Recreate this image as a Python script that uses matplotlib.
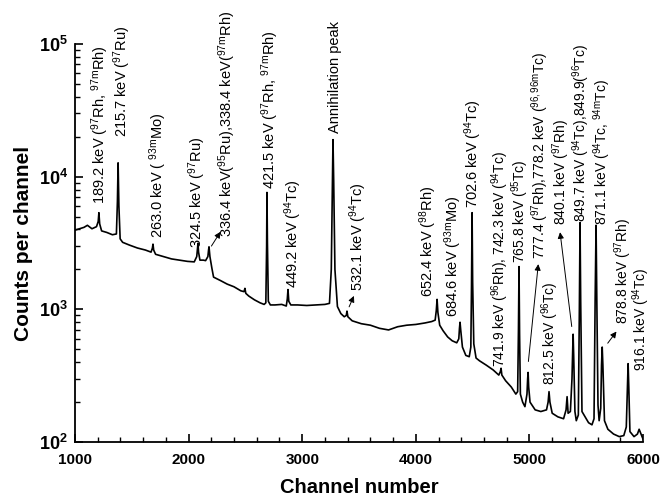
import numpy as np
import matplotlib
matplotlib.use('Agg')
import matplotlib.pyplot as plt

plt.rcParams['font.family'] = ['Liberation Sans', 'DejaVu Sans']
plt.rcParams['mathtext.fontset'] = 'custom'
plt.rcParams['mathtext.rm'] = 'Liberation Sans'
plt.rcParams['mathtext.it'] = 'Liberation Sans:italic'
plt.rcParams['mathtext.bf'] = 'Liberation Sans:bold'

# spectrum (channel, counts per channel)
channel = [1000, 1040, 1080, 1110, 1150, 1190, 1205, 1211, 1218, 1235, 1280, 1330, 1365,
           1374, 1380, 1387, 1398, 1420, 1480, 1550, 1620, 1670, 1682, 1687, 1693, 1710,
           1780, 1850, 1920, 1990, 2050, 2072, 2079, 2083, 2088, 2100, 2130, 2150, 2170,
           2176, 2180, 2188, 2205, 2220, 2280, 2340, 2400, 2460, 2488, 2496, 2504, 2530,
           2580, 2630, 2665, 2680, 2687, 2690, 2694, 2702, 2720, 2760, 2820, 2860, 2869,
           2875, 2882, 2900, 2960, 3040, 3120, 3200, 3240, 3256, 3266, 3271, 3277, 3288,
           3310, 3340, 3370, 3388, 3394, 3402, 3440, 3520, 3600, 3680, 3760, 3840, 3920,
           4000, 4080, 4140, 4170, 4180, 4187, 4194, 4210, 4240, 4280, 4320, 4360, 4378,
           4384, 4389, 4395, 4410, 4440, 4470, 4484, 4490, 4495, 4500, 4510, 4530, 4560,
           4620, 4680, 4730, 4744, 4750, 4757, 4790, 4840, 4880, 4896, 4903, 4908, 4913,
           4920, 4940, 4960, 4978, 4984, 4988, 4993, 5005, 5050, 5100, 5150, 5164, 5172,
           5180, 5200, 5250, 5300, 5322, 5331, 5340, 5360, 5374, 5380, 5384, 5389, 5400,
           5412, 5430, 5439, 5445, 5451, 5462, 5490, 5520, 5550, 5568, 5578, 5586, 5593,
           5603, 5613, 5627, 5634, 5640, 5646, 5660, 5690, 5740, 5790, 5830, 5852, 5862,
           5868, 5874, 5884, 5920, 5950, 5965, 6000]
counts = [3950, 4050, 4150, 4300, 4050, 4200, 4600, 5350, 4400, 3900, 3800, 3650, 3700,
          6500, 12700, 6000, 3400, 3200, 3050, 2900, 2800, 2700, 2900, 3100, 2800, 2600,
          2500, 2400, 2350, 2300, 2280, 2500, 2900, 3150, 2700, 2350, 2350, 2330, 2500,
          2800, 2960, 2500, 2050, 1750, 1650, 1550, 1480, 1380, 1360, 1440, 1320, 1260,
          1180, 1120, 1090, 1120, 3000, 7600, 3200, 1150, 1080, 1080, 1090, 1060, 1200,
          1410, 1150, 1080, 1080, 1070, 1080, 1090, 1110, 2000, 9000, 19000, 9500, 2000,
          1050, 930, 880, 900, 970, 880, 820, 780, 760, 720, 700, 740, 760,
          770, 790, 810, 830, 980, 1190, 950, 760, 690, 620, 580, 560, 600,
          720, 800, 700, 520, 450, 440, 520, 1500, 5350, 1600, 550, 430, 410,
          380, 350, 320, 340, 360, 320, 290, 260, 230, 240, 700, 2100, 650,
          230, 200, 185, 230, 300, 335, 260, 200, 175, 170, 175, 200, 240,
          200, 165, 155, 150, 175, 220, 165, 170, 300, 500, 650, 450, 170,
          145, 160, 1000, 4500, 1100, 170, 155, 140, 135, 150, 1200, 4300, 1100,
          190, 145, 180, 380, 520, 380, 145, 125, 115, 110, 112, 130, 250,
          390, 260, 120, 110, 115, 125, 105]

# peak labels: text, channel, counts at the bottom of the rotated text
labels = ['189.2 keV ($^{97}$Rh, $^{\\mathrm{97m}}$Rh)',
          '215.7 keV ($^{97}$Ru)',
          '263.0 keV ( $^{\\mathrm{93m}}$Mo)',
          '324.5 keV ($^{97}$Ru)',
          '336.4 keV($^{95}$Ru),338.4 keV($^{\\mathrm{97m}}$Rh)',
          '421.5 keV ($^{97}$Rh, $^{\\mathrm{97m}}$Rh)',
          '449.2 keV ($^{94}$Tc)',
          'Annihilation peak',
          '532.1 keV ($^{94}$Tc)',
          '652.4 keV ($^{98}$Rh)',
          '684.6 keV ($^{\\mathrm{93m}}$Mo)',
          '702.6 keV ($^{94}$Tc)',
          '741.9 keV ($^{96}$Rh), 742.3 keV ($^{94}$Tc)',
          '765.8 keV ($^{95}$Tc)',
          '777.4 ($^{97}$Rh),778.2 keV ($^{\\mathrm{96,96m}}$Tc)',
          '812.5 keV ($^{96}$Tc)',
          '840.1 keV ($^{97}$Rh)',
          '849.7 keV ($^{94}$Tc),849.9($^{96}$Tc)',
          '871.1 keV ($^{94}$Tc, $^{\\mathrm{94m}}$Tc)',
          '878.8 keV ($^{97}$Rh)',
          '916.1 keV ($^{94}$Tc)']
label_ch = [1220, 1414, 1731, 2074, 2338, 2717, 2919, 3289, 3491, 4107, 4327, 4504,
            4745, 4922, 5098, 5181, 5276, 5458, 5642, 5824, 5982]
label_cnt = [6200, 20000, 3470, 2920, 3540, 8130, 1460, 21400, 1365, 1230, 870, 5850,
             366, 2250, 2380, 268, 4350, 4590, 4290, 771, 342]
label_size = [10.5] * 12 + [10] * 9

# arrows: (tail channel, tail counts) -> (head channel, head counts)
arrow_tail = [(2188, 2880), (3403, 1000), (4988, 386), (5375, 708), (5674, 535)]
arrow_head = [(2294, 4000), (3465, 1320), (5080, 2300), (5266, 4000), (5780, 708)]

fig = plt.figure(figsize=(6.63, 4.99), dpi=100)
ax = fig.add_axes([0.113, 0.114, 0.857, 0.798])

ax.plot(channel, counts, color='k', lw=1.2)

for text, ch, cnt, fs in zip(labels, label_ch, label_cnt, label_size):
    ax.text(ch, cnt, text, rotation=90, ha='center', va='bottom', fontsize=fs)

for (x0, y0), (x1, y1) in zip(arrow_tail, arrow_head):
    ax.annotate('', xy=(x1, y1), xytext=(x0, y0),
                arrowprops=dict(arrowstyle='-|>', color='k', lw=0.7, mutation_scale=9))

ax.set_yscale('log')
ax.set_xlim(1000, 6000)
ax.set_ylim(100, 100000)
ax.set_xticks([1000, 2000, 3000, 4000, 5000, 6000])
ax.set_xticks(np.arange(1000, 6001, 200), minor=True)
ax.set_xticklabels(['1000', '2000', '3000', '4000', '5000', '6000'], fontweight='bold', fontsize=11)
ax.set_yticks([1e2, 1e3, 1e4, 1e5])
ax.set_yticklabels([r'$\mathbf{10^{2}}$', r'$\mathbf{10^{3}}$', r'$\mathbf{10^{4}}$',
                    r'$\mathbf{10^{5}}$'], fontsize=13)
ax.tick_params(which='major', direction='in', length=6, width=1.2)
ax.tick_params(which='minor', direction='in', length=3.5, width=1)
ax.tick_params(axis='x', pad=8)
ax.tick_params(axis='y', pad=5)
for s in ['top', 'right']:
    ax.spines[s].set_visible(False)
for s in ['left', 'bottom']:
    ax.spines[s].set_linewidth(1.3)

ax.set_xlabel('Channel number', fontsize=14.5, fontweight='bold', labelpad=8)
ax.set_ylabel('Counts per channel', fontsize=15, fontweight='bold', labelpad=4)

fig.savefig('out.png', dpi=100)
